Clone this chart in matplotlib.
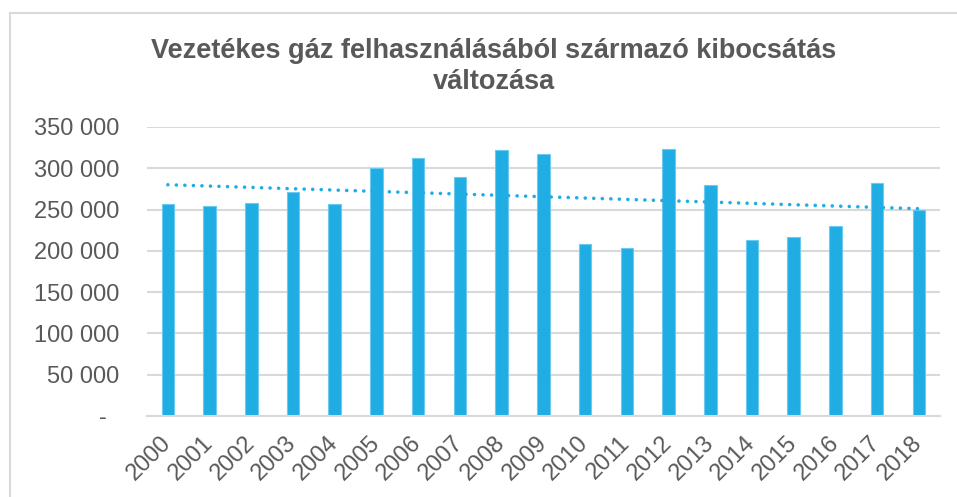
import matplotlib
matplotlib.use("Agg")
import matplotlib.pyplot as plt
import matplotlib.transforms as mtransforms
from matplotlib.lines import Line2D
from matplotlib.ticker import FuncFormatter
import numpy as np

plt.rcParams["font.family"] = ["Liberation Sans", "DejaVu Sans"]

# Emission from piped gas use per year
years = [str(y) for y in range(2000, 2019)]
emissions = [256500, 254800, 258000, 271000, 257200, 300400, 312000, 289400, 322300, 317100,
             208400, 203200, 323000, 279800, 213500, 217100, 230000, 282200, 249300]
title = "Vezetékes gáz felhasználásából származó kibocsátás\nváltozása"

BAR_COLOR = "#1FADE4"
EDGE_COLOR = "#6CCAF0"
GRID_COLOR = "#D9D9D9"
TEXT_COLOR = "#595959"

fig = plt.figure(figsize=(9.57, 4.97), dpi=100)
ax = fig.add_axes([0.1536, 0.163, 0.8284, 0.5815])

x = np.arange(len(years))
ax.bar(x, emissions, width=0.30, color=BAR_COLOR, edgecolor=EDGE_COLOR, linewidth=0.8, zorder=2)

# linear trend line over the bars
slope, intercept = np.polyfit(x, emissions, 1)
ax.plot(x, slope * x + intercept, color=BAR_COLOR, linewidth=2.6,
        linestyle=(0, (0.01, 2.35)), dash_capstyle="round", zorder=3)

ax.set_xlim(-0.5, len(years) - 0.5)
ax.set_ylim(0, 350000)
ax.set_yticks(range(0, 350001, 50000))
ax.yaxis.set_major_formatter(FuncFormatter(
    lambda v, pos: "-" if v == 0 else f"{int(v):,}".replace(",", " ")))
ax.grid(axis="y", color=GRID_COLOR, linewidth=1.5, zorder=0)
ax.set_axisbelow(True)

for side in ["top", "right", "left"]:
    ax.spines[side].set_visible(False)
ax.spines["bottom"].set_color(GRID_COLOR)
ax.spines["bottom"].set_linewidth(1.5)

ax.tick_params(axis="both", length=0, labelsize=17, labelcolor=TEXT_COLOR)
ax.tick_params(axis="y", pad=20)
ax.tick_params(axis="x", pad=17)
ax.set_xticks(x)
ax.set_xticklabels(years, rotation=45, ha="right", va="center", rotation_mode="anchor")

# zero label sits a bit further left
zero_label = ax.get_yticklabels()[0]
zero_label.set_transform(zero_label.get_transform() +
                         mtransforms.ScaledTranslation(-12 / 100, 0, fig.dpi_scale_trans))

fig.text(0.516, 0.866, title, ha="center", va="center", fontsize=19.5, fontweight="bold",
         color=TEXT_COLOR, linespacing=1.22)

# chart frame (left and top edges)
fig.add_artist(Line2D([0.0104, 0.0104], [0.974, -0.05], color=GRID_COLOR, linewidth=1.5,
                      transform=fig.transFigure))
fig.add_artist(Line2D([0.0104, 1.05], [0.974, 0.974], color=GRID_COLOR, linewidth=1.5,
                      transform=fig.transFigure))

fig.savefig("out.png", dpi=100)
